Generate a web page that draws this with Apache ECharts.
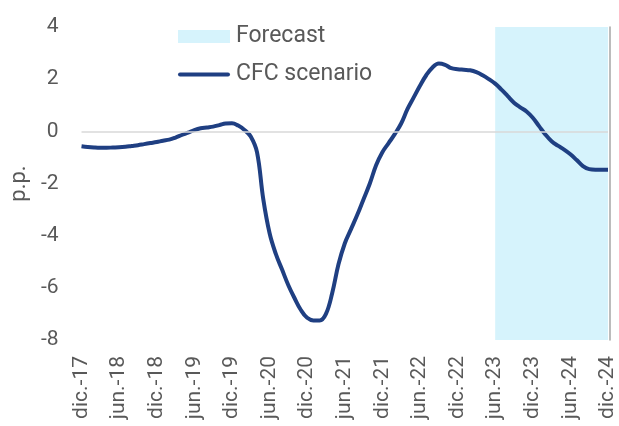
<!DOCTYPE html>
<html>
<head>
<meta charset="utf-8">
<script src="https://cdn.jsdelivr.net/npm/echarts@6/dist/echarts.min.js"></script>
<style>
  html, body { margin: 0; padding: 0; background: #ffffff; }
  #chart { width: 619px; height: 426px; }
</style>
</head>
<body>
<div id="chart"></div>
<script>
// Monthly labels, dic.-17 .. dic.-24
const monthNames = ['ene.', 'feb.', 'mar.', 'abr.', 'may.', 'jun.', 'jul.', 'ago.', 'sep.', 'oct.', 'nov.', 'dic.'];
const years = ['17', '18', '19', '20', '21', '22', '23', '24'];

// CFC scenario, p.p. (monthly)
const cfcScenario = [
  -0.57, -0.60, -0.62, -0.63, -0.63, -0.62, -0.61, -0.59, -0.56, -0.53, -0.49, -0.45,
  -0.41, -0.36, -0.32, -0.24, -0.14, -0.05, 0.05, 0.12, 0.15, 0.18, 0.24, 0.30,
  0.31, 0.22, 0.05, -0.20, -0.80, -2.60, -3.90, -4.70, -5.30, -5.90, -6.40, -6.85,
  -7.15, -7.25, -7.25, -7.00, -6.20, -5.10, -4.30, -3.75, -3.20, -2.60, -2.00, -1.30,
  -0.80, -0.45, -0.10, 0.30, 0.85, 1.30, 1.75, 2.15, 2.45, 2.60, 2.55, 2.42,
  2.38, 2.36, 2.34, 2.27, 2.15, 2.00, 1.83, 1.60, 1.35, 1.10, 0.92, 0.76,
  0.52, 0.20, -0.12, -0.38, -0.55, -0.70, -0.88, -1.10, -1.33, -1.45, -1.47, -1.47,
  -1.47
];

// Forecast window
const forecastStart = 'jun.-23';
const forecastEnd = 'dic.-24';

// Y axis range
const yMin = -8, yMax = 4, yStep = 2;

const categories = [];
categories.push('dic.-' + years[0]);
for (let y = 1; y < years.length; y++) {
  for (let m = 0; m < 12; m++) {
    categories.push(monthNames[m] + '-' + years[y]);
  }
}

const textColor = '#595959';
const fontFamily = 'Roboto, "Liberation Sans", sans-serif';
const lineColor = '#1f3f82';
const bandColor = '#d6f3fc';

const chart = echarts.init(document.getElementById('chart'), null, { renderer: 'canvas' });

chart.setOption({
  animation: false,
  textStyle: { fontFamily: fontFamily },
  grid: { left: 80, right: 11, top: 27, bottom: 86, containLabel: false },
  legend: {
    orient: 'vertical',
    left: 178,
    top: 25,
    padding: 0,
    itemWidth: 52,
    itemHeight: 13,
    itemGap: 15,
    textStyle: { fontSize: 23, color: textColor, fontFamily: fontFamily, padding: [0, 0, 0, 1] },
    data: [
      { name: 'Forecast', icon: 'rect', itemStyle: { color: bandColor } },
      { name: 'CFC scenario', icon: 'path://M2,0 L50,0 A2,2 0 0 1 50,4 L2,4 A2,2 0 0 1 2,0 Z', itemStyle: { color: lineColor } }
    ]
  },
  xAxis: {
    type: 'category',
    data: categories,
    boundaryGap: false,
    axisLine: { show: false },
    axisTick: { show: false },
    splitLine: { show: false },
    axisLabel: {
      interval: 5,
      rotate: 90,
      margin: 16,
      fontSize: 21,
      color: textColor,
      fontFamily: fontFamily
    }
  },
  yAxis: [
    {
      type: 'value',
      min: yMin,
      max: yMax,
      interval: yStep,
      name: 'p.p.',
      nameLocation: 'middle',
      nameRotate: 90,
      nameGap: 44,
      nameTextStyle: { fontSize: 22, color: textColor, fontFamily: fontFamily },
      axisLine: { show: false },
      axisTick: { show: false },
      splitLine: { show: false },
      axisLabel: { margin: 23, fontSize: 21, color: textColor, fontFamily: fontFamily }
    },
    {
      type: 'value',
      position: 'right',
      min: yMin,
      max: yMax,
      interval: yStep,
      offset: 2,
      axisLine: { show: true, lineStyle: { color: '#a6a6a6', width: 1.5 } },
      axisTick: { show: false },
      axisLabel: { show: false },
      splitLine: { show: false }
    }
  ],
  series: [
    {
      name: 'Forecast',
      type: 'line',
      data: [],
      symbol: 'none',
      itemStyle: { color: bandColor },
      lineStyle: { color: bandColor },
      markArea: {
        silent: true,
        itemStyle: { color: bandColor },
        data: [[{ xAxis: forecastStart }, { xAxis: forecastEnd }]]
      },
      z: 1
    },
    {
      name: 'CFC scenario',
      type: 'line',
      data: cfcScenario,
      symbol: 'none',
      smooth: 0.4,
      itemStyle: { color: lineColor },
      lineStyle: { color: lineColor, width: 4 },
      markLine: {
        silent: true,
        symbol: 'none',
        label: { show: false },
        lineStyle: { color: '#d9d9d9', width: 1.5, type: 'solid' },
        data: [{ yAxis: 0 }]
      },
      z: 3
    }
  ]
});
</script>
</body>
</html>
